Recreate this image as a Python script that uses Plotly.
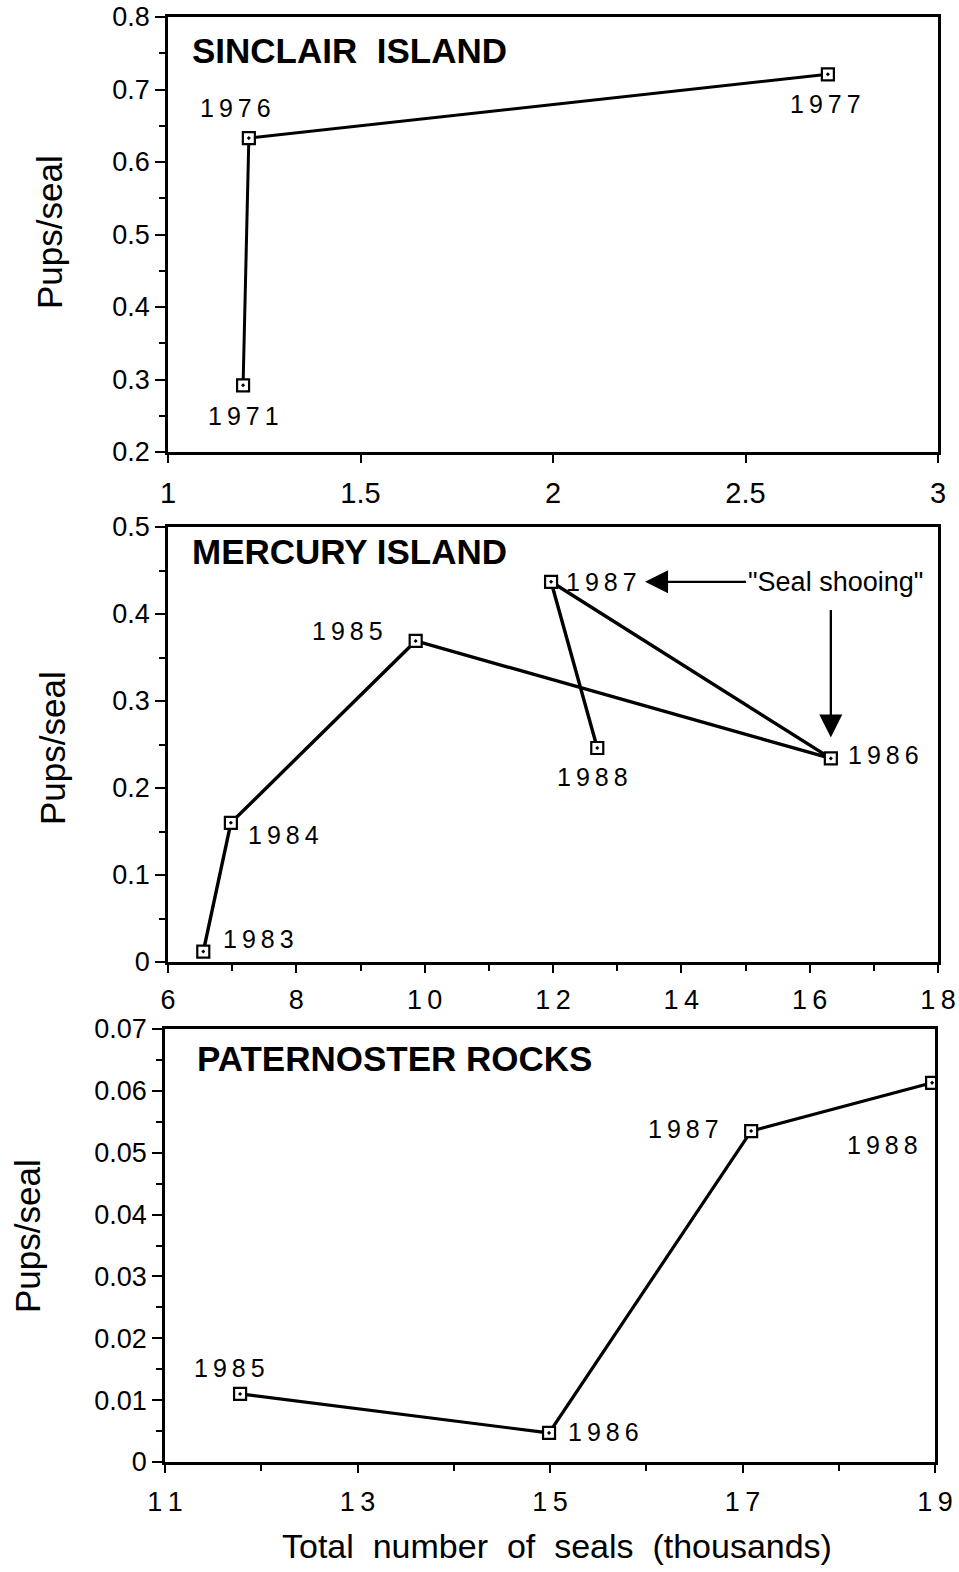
import plotly.graph_objects as go

W, H = 959, 1572
FONT = "Liberation Sans, Arial, Helvetica, sans-serif"

# ---- data -----------------------------------------------------------------
# Sinclair Island
sin_years = ["1971", "1976", "1977"]
sin_seals = [1.195, 1.21, 2.714]          # thousands
sin_pups = [0.292, 0.633, 0.721]          # pups per seal

# Mercury Island
mer_years = ["1983", "1984", "1985", "1986", "1987", "1988"]
mer_seals = [6.55, 6.98, 9.86, 16.33, 11.97, 12.69]
mer_pups = [0.012, 0.160, 0.369, 0.234, 0.437, 0.246]

# Paternoster Rocks
pat_years = ["1985", "1986", "1987", "1988"]
pat_seals = [11.78, 14.99, 17.09, 18.97]
pat_pups = [0.011, 0.0047, 0.0535, 0.0613]

# x tick values
sin_xticks = [1, 1.5, 2, 2.5, 3]
mer_xticks = [6, 8, 10, 12, 14, 16, 18]
pat_xticks = [11, 13, 15, 17, 19]

# year-label offsets (px) from each point
sin_off = [(0, -31), (-13, 30), (-2, -30)]
mer_off = [(55, 13), (53, -12), (-68, 10), (53, 3), (50, 0), (-5, -29)]
pat_off = [(-11, 26), (54, 1), (-68, 2), (-50, -62)]


def px_x(p):
    return p / W


def px_y(p):
    return 1 - p / H


def spaced(s):
    return "\u2009".join(s)


panels = [
    # (xaxis id, yaxis id, seals, pups, years, offsets, line width)
    ("x", "y", sin_seals, sin_pups, sin_years, sin_off, 3),
    ("x2", "y2", mer_seals, mer_pups, mer_years, mer_off, 3.4),
    ("x3", "y3", pat_seals, pat_pups, pat_years, pat_off, 3.2),
]

fig = go.Figure()
annotations = []

for xa, ya, xs, ys, yrs, offs, lw in panels:
    fig.add_trace(go.Scatter(
        x=xs, y=ys, xaxis=xa, yaxis=ya, mode="lines+markers",
        line=dict(color="black", width=lw),
        marker=dict(symbol="square-dot", size=12, color="white",
                    line=dict(color="black", width=2.2)),
        showlegend=False, hoverinfo="skip",
    ))
    for x, y, yr, (dx, dy) in zip(xs, ys, yrs, offs):
        annotations.append(dict(
            x=x, y=y, xref=xa, yref=ya, text=spaced(yr), showarrow=False,
            xshift=dx, yshift=dy, font=dict(family=FONT, size=25, color="black"),
        ))

# panel titles
for (x, y, t) in [(190, 50, "SINCLAIR  ISLAND"), (190, 552, "MERCURY ISLAND"),
                  (195, 1058, "PATERNOSTER ROCKS")]:
    annotations.append(dict(
        x=px_x(x), y=px_y(y), xref="paper", yref="paper", text="<b>%s</b>" % t,
        showarrow=False, xanchor="left", yanchor="middle",
        font=dict(family=FONT, size=35, color="black"),
    ))

# y-axis titles
for (x, y) in [(50, 232), (52, 748), (27, 1236)]:
    annotations.append(dict(
        x=px_x(x), y=px_y(y), xref="paper", yref="paper", text="Pups/seal",
        showarrow=False, textangle=-90, xanchor="center", yanchor="middle",
        font=dict(family=FONT, size=35, color="black"),
    ))

# x-axis title
annotations.append(dict(
    x=px_x(557), y=px_y(1546), xref="paper", yref="paper",
    text="Total  number  of  seals  (thousands)", showarrow=False,
    xanchor="center", yanchor="middle",
    font=dict(family=FONT, size=34, color="black"),
))

# "Seal shooing" callouts on Mercury Island
i87 = mer_years.index("1987")
i86 = mer_years.index("1986")
annotations.append(dict(
    x=mer_seals[i87], y=mer_pups[i87], xref="x2", yref="y2",
    text='"Seal shooing"', showarrow=True, ax=284, ay=0,
    standoff=94, arrowhead=2, arrowsize=2.0, arrowwidth=2.3, arrowcolor="black",
    font=dict(family=FONT, size=27, color="black"),
))
annotations.append(dict(
    x=mer_seals[i86], y=mer_pups[i86], xref="x2", yref="y2",
    text="", showarrow=True, ax=0, ay=-150,
    standoff=21, arrowhead=2, arrowsize=2.0, arrowwidth=2.3, arrowcolor="black",
))

axis_common = dict(showline=True, linecolor="black", linewidth=2.5, mirror=True,
                   ticks="outside", tickcolor="black", tickwidth=2,
                   showgrid=False, zeroline=False, automargin=False,
                   tickfont=dict(family=FONT, color="black"))
minor_common = dict(ticks="outside", ticklen=6, tickcolor="black", tickwidth=2)

fig.update_layout(
    width=W, height=H, margin=dict(l=0, r=0, t=0, b=0),
    paper_bgcolor="white", plot_bgcolor="white",
    annotations=annotations,
    xaxis=dict(axis_common, domain=[px_x(168), px_x(938)], range=[1, 3],
               tickvals=sin_xticks, ticklen=8, anchor="y",
               tickfont=dict(family=FONT, size=29, color="black"),
               ticklabelstandoff=5),
    yaxis=dict(axis_common, domain=[px_y(452), px_y(17)], range=[0.2, 0.8],
               dtick=0.1, tick0=0, ticklen=10, anchor="x",
               minor=dict(minor_common, dtick=0.05),
               tickfont=dict(family=FONT, size=27, color="black")),
    xaxis2=dict(axis_common, domain=[px_x(168), px_x(938)], range=[6, 18],
                tickvals=mer_xticks, ticktext=[spaced(str(v)) for v in mer_xticks],
                ticklen=8, anchor="y2",
                minor=dict(minor_common, dtick=1),
                tickfont=dict(family=FONT, size=27, color="black"),
                ticklabelstandoff=4),
    yaxis2=dict(axis_common, domain=[px_y(962), px_y(527)], range=[0, 0.5],
                dtick=0.1, tick0=0, ticklen=10, anchor="x2",
                minor=dict(minor_common, dtick=0.05),
                tickfont=dict(family=FONT, size=27, color="black")),
    xaxis3=dict(axis_common, domain=[px_x(165), px_x(935)], range=[11, 19],
                tickvals=pat_xticks, ticktext=[spaced(str(v)) for v in pat_xticks],
                ticklen=8, anchor="y3",
                minor=dict(minor_common, dtick=1),
                tickfont=dict(family=FONT, size=27, color="black"),
                ticklabelstandoff=6),
    yaxis3=dict(axis_common, domain=[px_y(1462), px_y(1029)], range=[0, 0.07],
                dtick=0.01, tick0=0, ticklen=10, anchor="x3",
                minor=dict(minor_common, dtick=0.005),
                tickfont=dict(family=FONT, size=27, color="black")),
)

fig.write_html("out.html")
